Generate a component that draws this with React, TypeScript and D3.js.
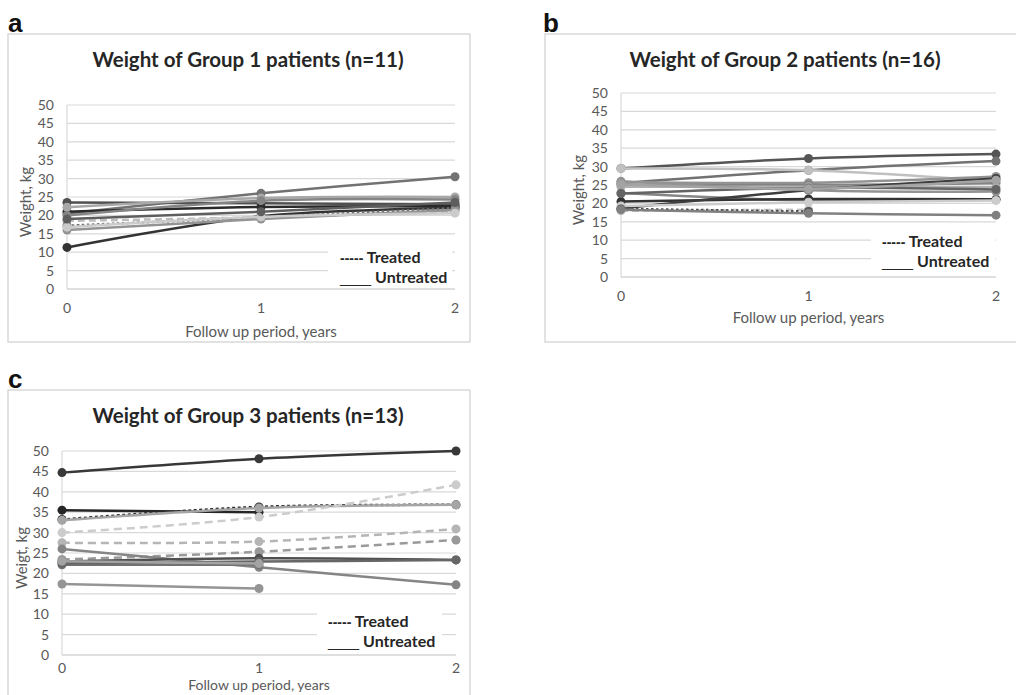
import React from 'react';
import * as d3 from 'd3';

// follow up years and weight axis ticks
const years = [0, 1, 2];
const weightTicks = [0, 5, 10, 15, 20, 25, 30, 35, 40, 45, 50];

// Group 1 (n=11): weight in kg at year 0, 1, 2
const group1Weights: (number | null)[][] = [
  [11.3, 19.8, 22.0],
  [20.5, 26.0, 30.5],
  [23.5, 23.3, 23.0],
  [21.0, 22.3, 22.5],
  [22.2, 24.7, 25.0],
  [20.0, 24.0, 24.3],
  [18.5, 19.5, 21.0],
  [17.2, 19.5, 22.0],
  [16.0, 19.0, 21.5],
  [16.8, 19.6, 20.6],
  [19.0, 21.0, 23.5],
];
const group1Treated = [false, false, false, false, false, false, true, true, false, false, false];
const group1Shades = ['#333', '#727272', '#505050', '#2a2a2a', '#a8a8a8', '#858585', '#bdbdbd', '#6f6f6f', '#949494', '#cbcbcb', '#5e5e5e'];
const group1Dashes = ['', '', '', '', '', '', '7,4', '2.5,2.5', '', '', ''];

// Group 2 (n=16)
const group2Weights: (number | null)[][] = [
  [29.5, 32.2, 33.4],
  [25.5, 29.0, 31.5],
  [29.5, 29.0, 26.0],
  [25.8, 25.6, 27.3],
  [25.0, 25.0, 25.5],
  [24.5, 24.5, 24.4],
  [22.8, 20.8, 21.0],
  [20.5, 21.2, 21.1],
  [18.6, 23.6, 26.8],
  [19.3, 20.3, 20.8],
  [18.0, 18.3, null],
  [18.5, 17.8, null],
  [18.3, 17.3, 16.8],
  [26.0, 23.6, 23.2],
  [22.7, 24.2, 23.8],
  [25.2, 24.0, 26.3],
];
const group2Treated = [false, false, false, false, false, false, false, false, false, false, true, true, false, false, false, false];
const group2Shades = ['#555', '#727272', '#c0c0c0', '#939393', '#838383', '#b0b0b0', '#868686', '#333', '#3e3e3e', '#cccccc', '#c6c6c6', '#505050', '#808080', '#939393', '#646464', '#a3a3a3'];
const group2Dashes = ['', '', '', '', '', '', '', '', '', '', '7,4', '2.5,2.5', '', '', '', ''];

// Group 3 (n=13)
const group3Weights: (number | null)[][] = [
  [44.7, 48.1, 50.0],
  [35.5, 35.0, null],
  [33.2, 36.3, 36.8],
  [33.0, 36.0, 36.8],
  [30.0, 33.8, 41.7],
  [27.5, 27.8, 30.9],
  [23.4, 25.3, 28.2],
  [26.0, 21.5, 17.2],
  [22.9, 23.7, 23.3],
  [22.1, 22.1, null],
  [22.5, 22.9, 23.3],
  [17.4, 16.3, null],
  [23.0, 22.4, null],
];
const group3Treated = [false, false, true, false, true, true, true, false, false, false, false, false, false];
const group3Shades = ['#383838', '#262626', '#2e2e2e', '#a5a5a5', '#cccccc', '#b5b5b5', '#9a9a9a', '#858585', '#505050', '#727272', '#666', '#959595', '#a3a3a3'];
const group3Dashes = ['', '', '3,2.5', '', '8,5', '8,5', '8,5', '', '', '', '', '', ''];

const FONT = 'Lato, "Open Sans", sans-serif';

function Panel(props: any) {
  const { letter, letterPos, box, plot, title, titlePos, yTitle, yTitleX, xTickY, xTitleY, xTitleSize, legend, weights, treated, shades, dashes } = props;

  const x = d3.scaleLinear().domain([0, 2]).range([plot.left, plot.right]);
  const y = d3.scaleLinear().domain([0, 50]).range([plot.bottom, plot.top]);

  const line = d3.line<number | null>()
    .defined(d => d != null)
    .x((d, i) => x(years[i]))
    .y(d => y(d as number))
    .curve(d3.curveCatmullRom.alpha(0.5));

  return (
    <g>
      <text x={letterPos[0]} y={letterPos[1]} fontFamily="'Liberation Sans', Arial, sans-serif" fontWeight="bold" fontSize={26} fill="#111">{letter}</text>
      <rect x={box.x} y={box.y} width={box.w} height={box.h} fill="#fff" stroke="#d9d9d9" strokeWidth={1.5} />
      <text x={titlePos[0]} y={titlePos[1]} textAnchor="middle" fontFamily={FONT} fontWeight="bold" fontSize={20.5} fill="#262626">{title}</text>

      {/* grid */}
      {weightTicks.map(t => (
        <line key={'g' + t} x1={plot.left} x2={plot.right} y1={y(t)} y2={y(t)} stroke={t === 0 ? '#bfbfbf' : '#d9d9d9'} strokeWidth={1.2} />
      ))}
      <line x1={plot.left} x2={plot.left} y1={y(0)} y2={y(50)} stroke="#d9d9d9" strokeWidth={1.2} />

      {/* legend box hides grid behind it */}
      <rect x={legend.x} y={legend.y} width={legend.w} height={legend.h} fill="#fff" />

      {weightTicks.map(t => (
        <text key={'t' + t} x={plot.left - 13} y={y(t)} dy="0.35em" textAnchor="end" fontFamily={FONT} fontSize={14} fill="#595959">{t}</text>
      ))}
      {years.map(v => (
        <text key={'x' + v} x={x(v)} y={xTickY} textAnchor="middle" fontFamily={FONT} fontSize={14} fill="#595959">{v}</text>
      ))}
      <text x={(plot.left + plot.right) / 2} y={xTitleY} textAnchor="middle" fontFamily={FONT} fontSize={xTitleSize || 15} fill="#595959">Follow up period, years</text>
      <text transform={`translate(${yTitleX},${(plot.top + plot.bottom) / 2 + 5}) rotate(-90)`} textAnchor="middle" fontFamily={FONT} fontSize={15} fill="#595959">{yTitle}</text>

      {/* series */}
      {weights.map((w: (number | null)[], i: number) => (
        <g key={'s' + i}>
          <path d={line(w) || ''} fill="none" stroke={shades[i]} strokeWidth={2.5}
            strokeDasharray={treated[i] ? dashes[i] : undefined} />
          {w.map((v, j) => v == null ? null : (
            <circle key={j} cx={x(years[j])} cy={y(v)} r={4.5} fill={shades[i]} />
          ))}
        </g>
      ))}

      {/* legend */}
      <text x={legend.tx} y={legend.ty} fontFamily={FONT} fontSize={16} fontWeight="bold" fill="#262626">
        <tspan fontFamily="'Liberation Sans', Arial, sans-serif" fontWeight="bold" fontSize={14}>-----</tspan> Treated
      </text>
      <text x={legend.tx} y={legend.ty + 20} fontFamily={FONT} fontSize={16} fontWeight="bold" fill="#262626">
        <tspan fontFamily="'Liberation Sans', Arial, sans-serif" fontWeight="normal" fontSize={14}>____</tspan> Untreated
      </text>
    </g>
  );
}

export default function App() {
  return (
    <svg width={1016} height={695} style={{ position: 'absolute', left: 0, top: 0, background: '#fff' }}>
      <Panel
        letter="a" letterPos={[8, 32]}
        box={{ x: 8, y: 34, w: 462, h: 308 }}
        plot={{ left: 67, right: 455, top: 105, bottom: 289 }}
        title="Weight of Group 1 patients (n=11)" titlePos={[248, 67]}
        yTitle="Weight, kg" yTitleX={31}
        xTickY={313} xTitleY={337}
        legend={{ x: 328, y: 242, w: 124, h: 44, tx: 340, ty: 263 }}
        weights={group1Weights} treated={group1Treated} shades={group1Shades} dashes={group1Dashes}
      />
      <Panel
        letter="b" letterPos={[543, 32]}
        box={{ x: 545, y: 34, w: 480, h: 308 }}
        plot={{ left: 621, right: 996, top: 93, bottom: 277 }}
        title="Weight of Group 2 patients (n=16)" titlePos={[785, 67]}
        yTitle="Weight, kg" yTitleX={584}
        xTickY={301} xTitleY={323}
        legend={{ x: 871, y: 229, w: 124, h: 44, tx: 882, ty: 247 }}
        weights={group2Weights} treated={group2Treated} shades={group2Shades} dashes={group2Dashes}
      />
      <Panel
        letter="c" letterPos={[8, 388]}
        box={{ x: 8, y: 390, w: 462, h: 320 }}
        plot={{ left: 62, right: 456, top: 451, bottom: 655 }}
        title="Weight of Group 3 patients (n=13)" titlePos={[248, 423]}
        yTitle="Weigt, kg" yTitleX={27}
        xTickY={673} xTitleY={690} xTitleSize={14}
        legend={{ x: 317, y: 603, w: 125, h: 48, tx: 328, ty: 627 }}
        weights={group3Weights} treated={group3Treated} shades={group3Shades} dashes={group3Dashes}
      />
    </svg>
  );
}
